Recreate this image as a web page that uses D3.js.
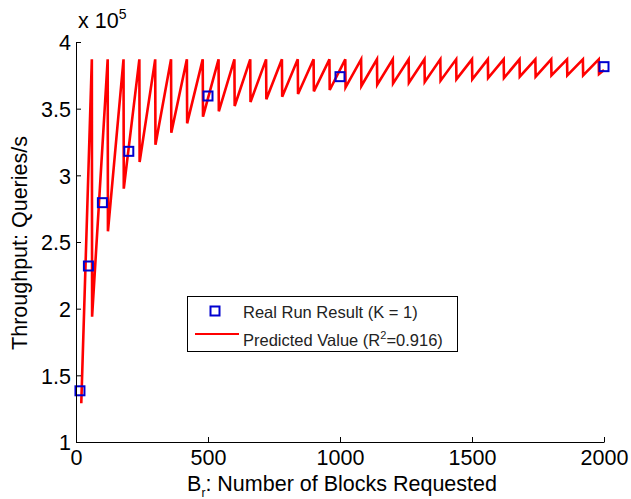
<!DOCTYPE html>
<html>
<head>
<meta charset="utf-8">
<script src="https://cdn.jsdelivr.net/npm/d3@7"></script>
<style>
  html, body { margin: 0; padding: 0; background: #fff; }
  svg { display: block; font-family: "Liberation Sans", Arial, Helvetica, sans-serif; }
</style>
</head>
<body>
<svg id="chart" width="631" height="499"></svg>
<script>
// ---- data ----
const xTicks = [0, 500, 1000, 1500, 2000];
const yTicks = [100000, 150000, 200000, 250000, 300000, 350000, 400000];
const yTickLabels = ["1", "1.5", "2", "2.5", "3", "3.5", "4"];

// Real run result (K = 1)
const realB = [15, 47, 100, 200, 500, 1000, 2000];
const realVal = [138400, 232000, 279500, 318000, 359500, 374000, 381500];

// Predicted value: sawtooth vertices (start, peaks, troughs right after each peak, end)
const predStart = [20, 129000];
const peakB = [60, 120, 180, 240, 300, 360, 420, 480, 540, 600, 660, 720, 780, 840, 900, 960,
  1020, 1080, 1140, 1200, 1260, 1320, 1380, 1440, 1500, 1560, 1620, 1680, 1740, 1800, 1860, 1920, 1980];
const peakVal = [387000, 387000, 387000, 387000, 387000, 387000, 387000, 387000, 387000, 387000, 387000,
  387000, 387000, 387000, 387000, 387000, 387000, 387000, 387000, 387000, 387000, 387000,
  387000, 387000, 387000, 387000, 387000, 387000, 387000, 387000, 387000, 387000, 387000];
const troughVal = [194000, 258000, 290000, 310000, 323000, 332000, 339000, 344000, 348000, 352000, 355000,
  357000, 359000, 361000, 363000, 364000, 366000, 367000, 368000, 369000, 369500, 370000,
  371000, 372000, 372000, 373000, 373000, 374000, 374000, 375000, 375000, 375000, 376000];
const predEnd = [2000, 379000];

// ---- layout ----
const svg = d3.select("#chart");
const L = 76, R = 604, T = 42, B = 442;
const x = d3.scaleLinear().domain([0, 2000]).range([L, R]);
const y = d3.scaleLinear().domain([100000, 400000]).range([B, T]);
const fontSize = 21.5;

// predicted line vertices
const predPts = [predStart];
peakB.forEach((b, i) => {
  predPts.push([b, peakVal[i]]);
  predPts.push([b + 1, troughVal[i]]);
});
predPts.push(predEnd);

svg.append("path")
  .datum(predPts)
  .attr("fill", "none")
  .attr("stroke", "#ff0000")
  .attr("stroke-width", 2.6)
  .attr("stroke-linejoin", "miter")
  .attr("d", d3.line().x(d => x(d[0])).y(d => y(d[1])));

// real run squares
const sq = 9;
svg.append("g").selectAll("rect")
  .data(realB.map((b, i) => [b, realVal[i]]))
  .join("rect")
  .attr("x", d => x(d[0]) - sq / 2)
  .attr("y", d => y(d[1]) - sq / 2)
  .attr("width", sq).attr("height", sq)
  .attr("fill", "none")
  .attr("stroke", "#0000d0")
  .attr("stroke-width", 2);

// axes (MATLAB style: inward ticks, left and bottom only)
const xAxis = d3.axisBottom(x).tickValues(xTicks).tickSizeInner(-5).tickSizeOuter(0).tickPadding(10).tickFormat(d3.format("d"));
const gx = svg.append("g").attr("transform", `translate(0,${B})`).call(xAxis);
const yAxis = d3.axisLeft(y).tickValues(yTicks).tickSizeInner(-5).tickSizeOuter(0).tickPadding(6)
  .tickFormat((d, i) => yTickLabels[i]);
const gy = svg.append("g").attr("transform", `translate(${L},0)`).call(yAxis);

[gx, gy].forEach(g => {
  g.select(".domain").attr("stroke", "#000").attr("stroke-width", 1);
  g.selectAll(".tick line").attr("stroke", "#000").attr("stroke-width", 1);
  g.selectAll(".tick text").attr("fill", "#000").style("font-size", fontSize + "px")
    .style("font-family", '"Liberation Sans", Arial, sans-serif');
});
gx.selectAll(".tick text").attr("dy", "0.71em").attr("y", 8);
gy.selectAll(".tick text").attr("x", -5).attr("dy", "0.36em");

// exponent label
const ex = svg.append("text").attr("x", 78).attr("y", 28).attr("fill", "#000")
  .style("font-size", fontSize + "px");
ex.append("tspan").text("x 10");
ex.append("tspan").attr("dy", -9).style("font-size", "14px").text("5");

// x label
const xl = svg.append("text").attr("x", (L + R) / 2 + 2).attr("y", 491).attr("text-anchor", "middle")
  .attr("fill", "#000").style("font-size", fontSize + "px");
xl.append("tspan").text("B");
xl.append("tspan").attr("dy", 6).style("font-size", "12px").text("r");
xl.append("tspan").attr("dy", -6).text(": Number of Blocks Requested");

// y label
svg.append("text")
  .attr("transform", `translate(27,${(T + B) / 2 + 1}) rotate(-90)`)
  .attr("text-anchor", "middle").attr("fill", "#000")
  .style("font-size", fontSize + "px")
  .text("Throughput: Queries/s");

// legend
const lg = svg.append("g");
lg.append("rect").attr("x", 187.5).attr("y", 296.5).attr("width", 270).attr("height", 55)
  .attr("fill", "#fff").attr("stroke", "#000").attr("stroke-width", 1);
lg.append("rect").attr("x", 215 - sq / 2).attr("y", 311 - sq / 2).attr("width", sq).attr("height", sq)
  .attr("fill", "none").attr("stroke", "#0000d0").attr("stroke-width", 2);
lg.append("line").attr("x1", 195).attr("x2", 239).attr("y1", 334).attr("y2", 334)
  .attr("stroke", "#ff0000").attr("stroke-width", 2);
lg.append("text").attr("x", 243).attr("y", 318).attr("fill", "#222").style("font-size", "16.5px")
  .text("Real Run Result (K = 1)");
const pt = lg.append("text").attr("x", 243).attr("y", 346).attr("fill", "#222").style("font-size", "16.5px");
pt.append("tspan").text("Predicted Value (R");
pt.append("tspan").attr("dy", -7).style("font-size", "11px").text("2");
pt.append("tspan").attr("dy", 7).text("=0.916)");
</script>
</body>
</html>
